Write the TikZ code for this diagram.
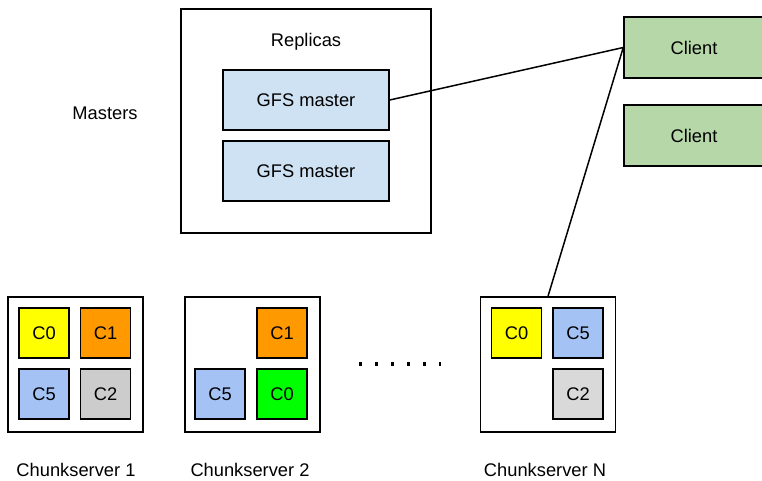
\documentclass[tikz,border=0pt]{standalone}
\usepackage{fontspec}
\setmainfont{Liberation Sans}
\definecolor{gfsblue}{HTML}{CFE2F3}
\definecolor{clientgreen}{HTML}{B6D7A8}
\definecolor{cyellow}{HTML}{FFFF00}
\definecolor{corange}{HTML}{FF9900}
\definecolor{cblue}{HTML}{A4C2F4}
\definecolor{cgrey}{HTML}{CCCCCC}
\definecolor{cgreylight}{HTML}{D9D9D9}
\definecolor{cgreen}{HTML}{00FF00}
\tikzset{
  box/.style={draw=black, line width=1.5pt, rectangle, inner sep=0pt},
  master/.style={box, fill=gfsblue, minimum width=166pt, minimum height=60pt},
  client/.style={box, fill=clientgreen, minimum width=140pt, minimum height=61pt},
  chunk/.style={box, minimum width=50pt, minimum height=50pt},
  server/.style={box, fill=white, minimum width=135pt, minimum height=135pt},
  lbl/.style={font=\fontsize{18.3pt}{21pt}\selectfont},
  conn/.style={line width=1.5pt}
}
\begin{document}
\begin{tikzpicture}[x=1pt,y=-1pt, every node/.append style={lbl}]
\useasboundingbox (0,0) rectangle (762,481);
% replicas
\node[box, minimum width=250pt, minimum height=224pt] (rep) at (306,121) {};
\node (reptxt) at (306,42) {Replicas};
\node[master] (m1) at (306,100) {GFS master};
\node[master] (m2) at (306,171) {GFS master};
\node (masters) at (105,113) {Masters};
% clients
\node[client] (c1) at (694,47.5) {Client};
\node[client] (c2) at (694,135.5) {Client};
% servers
\node[server] (s1) at (75.5,364.5) {};
\node[server] (s2) at (252.5,364.5) {};
\node[server] (sn) at (548,364.5) {};
% server 1 chunks
\node[chunk, fill=cyellow] (s1c0) at (44,333) {C0};
\node[chunk, fill=corange] (s1c1) at (105.5,333) {C1};
\node[chunk, fill=cblue] (s1c5) at (44,394) {C5};
\node[chunk, fill=cgrey] (s1c2) at (105.5,394) {C2};
% server 2 chunks
\node[chunk, fill=corange] (s2c1) at (282,333) {C1};
\node[chunk, fill=cblue] (s2c5) at (220,394) {C5};
\node[chunk, fill=cgreen] (s2c0) at (282,394) {C0};
% server N chunks
\node[chunk, fill=cyellow] (snc0) at (516.5,333) {C0};
\node[chunk, fill=cblue] (snc5) at (578,333) {C5};
\node[chunk, fill=cgreylight] (snc2) at (578,394) {C2};
% labels
\node (l1) at (76,470) {Chunkserver 1};
\node (l2) at (250,470) {Chunkserver 2};
\node (ln) at (545,470) {Chunkserver N};
% dots
\coordinate (d0) at (358.5,364);
\coordinate (d1) at (441,364);
\draw[line width=3.5pt, dash pattern=on 3.5pt off 12.5pt] (d0) -- (d1);
% connectors
\draw[conn] (m1.east) -- (c1.west);
\draw[conn] (c1.west) -- (sn.north);
\end{tikzpicture}
\end{document}
